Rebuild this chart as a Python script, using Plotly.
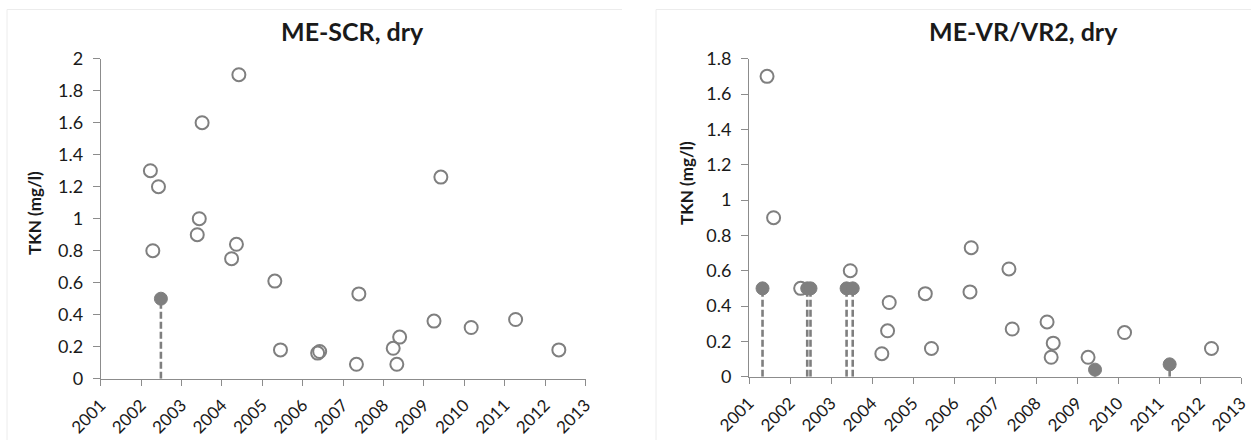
import plotly.graph_objects as go

W, H = 1251, 440

# ---------- data ----------
titles = ["ME-SCR, dry", "ME-VR/VR2, dry"]
y_title = "TKN (mg/l)"
year_ticks = list(range(2001, 2014))

# ME-SCR, dry : detected values (open circles)
scr_det_x = [2002.23, 2002.43, 2002.29, 2003.51, 2003.44, 2003.39, 2004.42, 2004.36, 2004.24,
             2005.31, 2005.45, 2006.37, 2006.42, 2007.39, 2007.33, 2008.24, 2008.33, 2008.40,
             2009.25, 2009.42, 2010.17, 2011.27, 2012.34]
scr_det_y = [1.30, 1.20, 0.80, 1.60, 1.00, 0.90, 1.90, 0.84, 0.75,
             0.61, 0.18, 0.16, 0.17, 0.53, 0.09, 0.19, 0.09, 0.26,
             0.36, 1.26, 0.32, 0.37, 0.18]
# ME-SCR, dry : non-detects (filled circles with dashed drop line)
scr_nd_x = [2002.49]
scr_nd_y = [0.50]

# ME-VR/VR2, dry : detected values
vr_det_x = [2001.44, 2001.60, 2002.26, 2003.47, 2004.42, 2004.38, 2004.24, 2005.30, 2005.45,
            2006.42, 2006.39, 2007.34, 2007.42, 2008.27, 2008.42, 2008.37, 2009.27, 2010.16,
            2012.28]
vr_det_y = [1.70, 0.90, 0.50, 0.60, 0.42, 0.26, 0.13, 0.47, 0.16,
            0.73, 0.48, 0.61, 0.27, 0.31, 0.19, 0.11, 0.11, 0.25,
            0.16]
# ME-VR/VR2, dry : non-detects
vr_nd_x = [2001.33, 2002.42, 2002.50, 2003.38, 2003.53, 2009.44, 2011.26]
vr_nd_y = [0.50, 0.50, 0.50, 0.50, 0.50, 0.04, 0.07]

y_ranges = [[0, 2], [0, 1.8]]

# ---------- style ----------
FONT = "Lato, 'Open Sans', sans-serif"
GRAY = "#7f7f7f"
AXIS = "#8c8c8c"
TEXT = "#1a1a1a"


def px(x):
    return x / W


def py(y):
    return 1 - y / H


fig = go.Figure()

panels = [
    (scr_det_x, scr_det_y, scr_nd_x, scr_nd_y, "x", "y"),
    (vr_det_x, vr_det_y, vr_nd_x, vr_nd_y, "x2", "y2"),
]

for det_x, det_y, nd_x, nd_y, xa, ya in panels:
    # dashed drop lines for non-detects
    lx, ly = [], []
    for xv, yv in zip(nd_x, nd_y):
        lx += [xv, xv, None]
        ly += [0, yv, None]
    fig.add_trace(go.Scatter(x=lx, y=ly, mode="lines", xaxis=xa, yaxis=ya,
                             line=dict(color=GRAY, width=2.6, dash="7px,3px"),
                             hoverinfo="skip", showlegend=False, cliponaxis=False))
    fig.add_trace(go.Scatter(x=det_x, y=det_y, mode="markers", xaxis=xa, yaxis=ya,
                             marker=dict(symbol="circle", size=13, color="rgba(255,255,255,0)",
                                         line=dict(color=GRAY, width=2)),
                             showlegend=False, cliponaxis=False))
    fig.add_trace(go.Scatter(x=nd_x, y=nd_y, mode="markers", xaxis=xa, yaxis=ya,
                             marker=dict(symbol="circle", size=13, color=GRAY,
                                         line=dict(color=GRAY, width=1)),
                             showlegend=False, cliponaxis=False))

xaxis_common = dict(
    range=[2001, 2013], tickmode="array", tickvals=year_ticks,
    ticktext=[str(v) for v in year_ticks], tickangle=-45,
    showgrid=False, zeroline=False, showline=True, linecolor=AXIS, linewidth=1,
    ticks="outside", ticklen=6, tickcolor=AXIS, tickwidth=1, automargin=False,
    ticklabelstandoff=3,
    tickfont=dict(family=FONT, size=17, color=TEXT),
)
yaxis_common = dict(
    dtick=0.2, showgrid=False, zeroline=False, showline=True, linecolor=AXIS, linewidth=1,
    ticks="outside", ticklen=7, tickcolor=AXIS, tickwidth=1, automargin=False,
    ticklabelstandoff=6,
    tickfont=dict(family=FONT, size=18, color=TEXT),
)

fig.update_layout(
    width=W, height=H,
    margin=dict(l=0, r=0, t=0, b=0),
    paper_bgcolor="white", plot_bgcolor="white",
    xaxis=dict(xaxis_common, domain=[px(100.7), px(585.5)], anchor="y"),
    yaxis=dict(yaxis_common, domain=[py(378.7), py(58.7)], range=y_ranges[0], anchor="x"),
    xaxis2=dict(xaxis_common, domain=[px(749), px(1241)], anchor="y2"),
    yaxis2=dict(yaxis_common, domain=[py(376.7), py(58.7)], range=y_ranges[1], anchor="x2"),
)

annotations = [
    dict(text=titles[0], x=px(352), y=py(31), size=25),
    dict(text=titles[1], x=px(1023), y=py(31), size=25),
    dict(text=y_title, x=px(34), y=py(213), size=17, textangle=-90),
    dict(text=y_title, x=px(686), y=py(183), size=17, textangle=-90),
]
ann = []
for a in annotations:
    ann.append(dict(text="<b>" + a["text"] + "</b>", x=a["x"], y=a["y"],
                    xref="paper", yref="paper", showarrow=False,
                    textangle=a.get("textangle", 0),
                    font=dict(family=FONT, size=a["size"], color=TEXT),
                    xanchor="center", yanchor="middle"))
fig.update_layout(annotations=ann)

# faint chart-area borders
border = "#ececec"
shapes = []
for x0, x1 in [(7, 622), (656, 1251)]:
    shapes.append(dict(type="line", xref="paper", yref="paper", x0=px(x0), x1=px(x1),
                       y0=py(9.5), y1=py(9.5), line=dict(color=border, width=1)))
    shapes.append(dict(type="line", xref="paper", yref="paper", x0=px(x0), x1=px(x0),
                       y0=py(9.5), y1=0, line=dict(color=border, width=1)))
fig.update_layout(shapes=shapes)

fig.write_html(
    "out.html",
    config={"displayModeBar": False},
    post_script="document.body.style.margin='0';document.body.style.overflow='hidden';",
)
